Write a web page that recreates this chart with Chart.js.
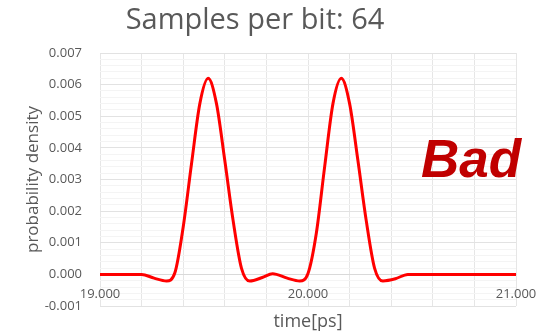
<!DOCTYPE html>
<html>
<head>
<meta charset="utf-8">
<script src="https://cdn.jsdelivr.net/npm/chart.js@4"></script>
<style>
  html, body { margin: 0; padding: 0; background: #fff; }
  #wrap { width: 549px; height: 334px; position: relative; }
</style>
</head>
<body>
<div id="wrap"><canvas id="pdfChart"></canvas></div>
<script>
// time axis in ps, density
const times = [19.00, 19.20, 19.26, 19.32, 19.36, 19.40, 19.44, 19.48, 19.52, 19.56, 19.60, 19.64, 19.68, 19.72,
  19.78, 19.83, 19.90, 19.96, 20.00, 20.04, 20.08, 20.12, 20.16, 20.20, 20.24, 20.28, 20.32, 20.36, 20.42, 20.48, 21.00];
const density = [0, 0, -0.00012, -0.00021, 0.00005, 0.0015, 0.0035, 0.0054, 0.0062, 0.0054, 0.0036, 0.0017, 0.0002, -0.00021,
  -0.0001, 0.00002, -0.00012, -0.00021, 0.00003, 0.0013, 0.0034, 0.0054, 0.0062, 0.0054, 0.0036, 0.0017, 0.0002, -0.00021, -0.00014, 0, 0];

const xMin = 19, xMax = 21, xStep = 0.2;
const yMin = -0.001, yMax = 0.007, yStep = 0.0002;

const chartTitle = 'Samples per bit: 64';
const xTitle = 'time[ps]';
const yTitle = 'probability density';
const stamp = 'Bad';

const textGray = '#595959';
const font = "'Open Sans', sans-serif";

const overlayText = {
  id: 'overlayText',
  afterDraw(chart) {
    const c = chart.ctx;
    const area = chart.chartArea;
    c.save();
    c.fillStyle = textGray;
    c.textAlign = 'center';
    c.textBaseline = 'alphabetic';
    c.font = '29px ' + font;
    c.fillText(chartTitle, 255, 29);

    c.font = '18px ' + font;
    c.fillText(xTitle, (area.left + area.right) / 2, 327);

    c.save();
    c.translate(33, (area.top + area.bottom) / 2);
    c.rotate(-Math.PI / 2);
    c.font = '17px ' + font;
    c.textBaseline = 'middle';
    c.fillText(yTitle, 0, 0);
    c.restore();

    c.fillStyle = '#c00000';
    c.textAlign = 'left';
    c.font = "italic bold 53px 'Liberation Sans', Arial, sans-serif";
    c.fillText(stamp, 421, 177);
    c.restore();
  }
};

const isMajorY = v => Math.round(v * 10000) % 10 === 0;

new Chart(document.getElementById('pdfChart'), {
  type: 'line',
  data: {
    datasets: [{
      data: times.map((t, i) => ({ x: t, y: density[i] })),
      borderColor: '#ff0000',
      borderWidth: 3,
      pointRadius: 0,
      cubicInterpolationMode: 'monotone',
      fill: false
    }]
  },
  options: {
    responsive: true,
    maintainAspectRatio: false,
    animation: false,
    layout: { padding: { top: 53, right: 33, bottom: 28, left: 0 } },
    scales: {
      x: {
        type: 'linear',
        min: xMin,
        max: xMax,
        position: { y: 0 },
        grid: { color: '#e6e6e6', drawTicks: false },
        border: { display: true, color: '#d9d9d9' },
        ticks: {
          stepSize: xStep,
          autoSkip: false,
          maxRotation: 0,
          padding: 12,
          color: textGray,
          font: { family: font, size: 13 },
          callback: v => Math.abs(v - Math.round(v)) < 1e-6 ? v.toFixed(3) : ''
        }
      },
      y: {
        min: yMin,
        max: yMax,
        afterFit: s => { s.width = 100; },
        grid: {
          drawTicks: false,
          color: ctx => isMajorY(ctx.tick.value) ? '#e2e2e2' : '#f4f4f4'
        },
        border: { display: false },
        ticks: {
          stepSize: yStep,
          autoSkip: false,
          padding: 18,
          color: textGray,
          font: { family: font, size: 13 },
          callback: v => isMajorY(v) ? (Math.round(v * 10000) / 10000).toFixed(3) : ''
        }
      }
    },
    plugins: {
      legend: { display: false },
      tooltip: { enabled: false }
    }
  },
  plugins: [overlayText]
});
</script>
</body>
</html>
